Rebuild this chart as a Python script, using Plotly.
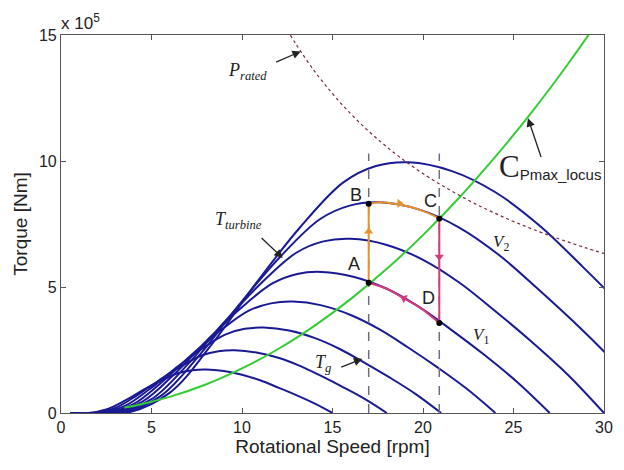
import plotly.graph_objects as go

# ---------------- data (torque in units of 1e5 Nm) ----------------
wind_labels = ["5 m/s", "6 m/s", "7 m/s", "8 m/s", "9 m/s", "10 m/s", "11 m/s", "12 m/s"]
speed_5 = [0.5, 1.5, 2.5, 3.5, 4.5, 5.5, 6.5, 7.25, 8.0, 9.0, 10.0, 11.0, 12.0, 13.0, 14.0, 15.0]
torque_5 = [0, 0, 0.14, 0.48, 0.90, 1.28, 1.59, 1.70, 1.73, 1.67, 1.52, 1.30, 1.01, 0.71, 0.38, 0]
speed_6 = [0.5, 1.8, 3.0, 4.2, 5.4, 6.6, 7.8, 8.7, 9.6, 10.8, 12.0, 13.2, 14.4, 15.6, 16.8, 18.0]
torque_6 = [0, 0, 0.20, 0.70, 1.29, 1.84, 2.29, 2.45, 2.49, 2.40, 2.19, 1.87, 1.46, 1.02, 0.55, 0]
speed_7 = [0.5, 2.1, 3.5, 4.9, 6.3, 7.7, 9.1, 10.15, 11.2, 12.6, 14.0, 15.4, 16.8, 18.2, 19.6, 21.0]
torque_7 = [0, 0, 0.27, 0.95, 1.76, 2.51, 3.12, 3.34, 3.39, 3.27, 2.98, 2.54, 1.98, 1.39, 0.75, 0]
speed_8 = [0.5, 2.4, 4.0, 5.6, 7.2, 8.8, 10.4, 11.6, 12.8, 14.4, 16.0, 17.6, 19.2, 20.8, 22.4, 24.0]
torque_8 = [0, 0, 0.35, 1.24, 2.30, 3.27, 4.07, 4.35, 4.42, 4.27, 3.89, 3.32, 2.59, 1.81, 0.97, 0]
speed_9 = [0.5, 2.7, 4.5, 6.3, 8.1, 9.9, 11.7, 13.05, 14.4, 16.2, 18.0, 19.8, 21.6, 23.4, 25.2, 27.0]
torque_9 = [0, 0, 0.45, 1.57, 2.91, 4.14, 5.15, 5.52, 5.60, 5.40, 4.93, 4.20, 3.28, 2.30, 1.23, 0]
speed_10 = [0.5, 3.0, 5.0, 7.0, 9.0, 11.0, 13.0, 14.5, 16.0, 18.0, 20.0, 22.0, 24.0, 26.0, 28.0, 30.0]
torque_10 = [0, 0, 0.55, 1.93, 3.59, 5.11, 6.36, 6.81, 6.91, 6.67, 6.08, 5.18, 4.04, 2.83, 1.52, 0]
speed_11 = [0.5, 3.3, 5.5, 7.7, 9.9, 12.1, 14.3, 15.95, 17.6, 19.8, 22.0, 24.2, 26.4, 28.6, 30.8, 33.0]
torque_11 = [0, 0, 0.67, 2.34, 4.35, 6.19, 7.69, 8.23, 8.36, 8.07, 7.36, 6.27, 4.89, 3.43, 1.84, 0]
speed_12 = [0.5, 3.6, 6.0, 8.4, 10.8, 13.2, 15.6, 17.4, 19.2, 21.6, 24.0, 26.4, 28.8, 31.2, 33.6, 36.0]
torque_12 = [0, 0, 0.80, 2.79, 5.17, 7.36, 9.15, 9.80, 9.95, 9.60, 8.76, 7.46, 5.82, 4.08, 2.19, 0]

cpmax_speed = [3.5, 4, 6, 8, 10, 12, 14, 16, 18, 20, 22, 24, 26, 28, 30]
cpmax_torque = [0.22, 0.28, 0.64, 1.13, 1.77, 2.54, 3.46, 4.52, 5.72, 7.06, 8.54, 10.17, 11.93, 13.84, 15.89]

prated_speed = [12.67, 13, 14, 15, 16, 17, 18, 19, 20, 21, 22, 23, 24, 25, 26, 27, 28, 29, 30]
prated_torque = [15.0, 14.62, 13.57, 12.67, 11.88, 11.18, 10.56, 10.0, 9.5, 9.05, 8.64, 8.26,
                 7.92, 7.6, 7.31, 7.04, 6.79, 6.55, 6.33]

point_names = ["A", "B", "C", "D"]
point_speed = [17.0, 17.0, 20.9, 20.9]
point_torque = [5.17, 8.30, 7.72, 3.57]

bc_speed = [17.0, 17.6, 18.6, 19.8, 20.9]          # B -> C along V2 curve
bc_torque = [8.30, 8.36, 8.28, 8.07, 7.72]
da_speed = [20.9, 19.8, 18.9, 18.0, 17.0]          # D -> A along V1 curve
da_torque = [3.57, 4.20, 4.57, 4.93, 5.17]

guide_speed = [17.0, 20.9]
guide_top = 10.3

x_ticks = [0, 5, 10, 15, 20, 25, 30]
y_ticks = [0, 5, 10, 15]

# ---------------- figure ----------------
BLUE = "rgb(26,26,148)"
ORANGE = "#e8922e"
MAGENTA = "#d63a78"
GREEN = "#33cc33"
fig = go.Figure()

curves = [(speed_5, torque_5), (speed_6, torque_6), (speed_7, torque_7), (speed_8, torque_8),
          (speed_9, torque_9), (speed_10, torque_10), (speed_11, torque_11), (speed_12, torque_12)]
for (sx, sy), name in zip(curves, wind_labels):
    fig.add_trace(go.Scatter(x=sx, y=sy, mode="lines", name=name,
                             line=dict(color=BLUE, width=2, shape="spline", smoothing=1.0)))

fig.add_trace(go.Scatter(x=cpmax_speed, y=cpmax_torque, mode="lines",
                         line=dict(color=GREEN, width=2, shape="spline")))
fig.add_trace(go.Scatter(x=prated_speed, y=prated_torque, mode="lines",
                         line=dict(color="#7a2b3b", width=1.2, dash="dot", shape="spline")))

# dashed guides
for gx in guide_speed:
    fig.add_trace(go.Scatter(x=[gx, gx], y=[0, guide_top], mode="lines",
                             line=dict(color="#6e6e80", width=1.5, dash="dash")))

# control path
fig.add_trace(go.Scatter(x=[point_speed[0], point_speed[1]], y=[point_torque[0], point_torque[1]],
                         mode="lines", line=dict(color=ORANGE, width=2)))
fig.add_trace(go.Scatter(x=bc_speed, y=bc_torque, mode="lines",
                         line=dict(color=ORANGE, width=2, shape="spline")))
fig.add_trace(go.Scatter(x=[point_speed[2], point_speed[3]], y=[point_torque[2], point_torque[3]],
                         mode="lines", line=dict(color=MAGENTA, width=2)))
fig.add_trace(go.Scatter(x=da_speed, y=da_torque, mode="lines",
                         line=dict(color=MAGENTA, width=2, shape="spline")))

# direction arrowheads
fig.add_trace(go.Scatter(x=[17.0], y=[7.2], mode="markers",
                         marker=dict(symbol="triangle-up", size=8, color=ORANGE)))
fig.add_trace(go.Scatter(x=[18.7], y=[8.32], mode="markers",
                         marker=dict(symbol="triangle-right", size=8, color=ORANGE)))
fig.add_trace(go.Scatter(x=[20.9], y=[6.2], mode="markers",
                         marker=dict(symbol="triangle-down", size=8, color=MAGENTA)))
fig.add_trace(go.Scatter(x=[18.95], y=[4.55], mode="markers",
                         marker=dict(symbol="triangle-left", size=8, color=MAGENTA, angle=25)))

fig.add_trace(go.Scatter(x=point_speed, y=point_torque, mode="markers",
                         marker=dict(color="black", size=6)))

SERIF = "Liberation Serif, Times New Roman, serif"
SANS = "Liberation Sans, Arial, sans-serif"

ann = []
def label(x, y, text, size=17, family=SANS, xanchor="center"):
    ann.append(dict(x=x, y=y, xref="x", yref="y", text=text, showarrow=False,
                    font=dict(family=family, size=size, color="#222"), xanchor=xanchor))

def arrow(x0, y0, x1, y1):
    ann.append(dict(x=x1, y=y1, ax=x0, ay=y0, xref="x", yref="y", axref="x", ayref="y",
                    text="", showarrow=True, arrowhead=2, arrowsize=1.3, arrowwidth=1.3,
                    arrowcolor="#222"))

for n, sx, sy, dx, dy in zip(point_names, point_speed, point_torque,
                             [-0.8, -0.7, -0.5, -0.6], [0.75, 0.35, 0.7, 1.0]):
    label(sx + dx, sy + dy, n, size=18)

label(10.3, 13.55, "<i>P</i><sub><i>rated</i></sub>", size=18, family=SERIF)
arrow(11.8, 13.9, 13.25, 14.35)
label(9.8, 7.65, "<i>T</i><sub><i>turbine</i></sub>", size=18, family=SERIF)
arrow(11.0, 7.0, 12.25, 6.15)
label(14.45, 1.95, "<i>T</i><sub><i>g</i></sub>", size=18, family=SERIF)
arrow(15.4, 1.8, 16.65, 2.15)
label(24.3, 6.75, "<i>V</i><sub>2</sub>", size=17, family=SERIF)
label(23.2, 3.05, "<i>V</i><sub>1</sub>", size=17, family=SERIF)
label(24.1, 9.8, "<span style='font-family:Liberation Serif;font-size:31px'>C</span>"
      "<sub><span style='font-size:15px'>Pmax_locus</span></sub>", size=15, family=SANS,
      xanchor="left")
arrow(26.55, 10.1, 25.8, 11.7)

ann.append(dict(x=0.0, y=1.0, xref="paper", yref="paper", yshift=0, xshift=-2,
                text="x 10<sup>5</sup>", showarrow=False, xanchor="left", yanchor="bottom",
                font=dict(family=SANS, size=17, color="#222")))

axis_common = dict(showline=True, mirror="ticks", linecolor="#555", linewidth=1.2,
                   ticks="inside", ticklen=5, tickcolor="#555", showgrid=False, zeroline=False,
                   tickfont=dict(family=SANS, size=16, color="#222"))

fig.update_layout(
    width=624, height=470,
    margin=dict(l=61, r=11, t=35, b=57),
    paper_bgcolor="white", plot_bgcolor="white",
    showlegend=False,
    annotations=ann,
    xaxis=dict(range=[0, 30], tickvals=x_ticks,
               title=dict(text="Rotational Speed [rpm]", standoff=4,
                          font=dict(family=SANS, size=19, color="#222")),
               **axis_common),
    yaxis=dict(range=[0, 15], tickvals=y_ticks,
               title=dict(text="Torque [Nm]", standoff=6,
                          font=dict(family=SANS, size=19, color="#222")),
               **axis_common),
)

fig.write_html("out.html")
